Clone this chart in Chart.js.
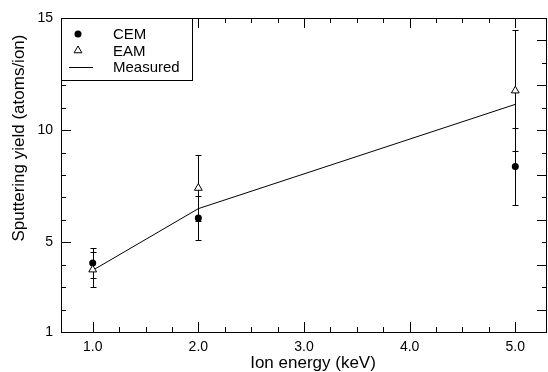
<!DOCTYPE html>
<html>
<head>
<meta charset="utf-8">
<script src="https://cdn.jsdelivr.net/npm/chart.js@4.4.1/dist/chart.umd.min.js"></script>
<style>
  html, body { margin: 0; padding: 0; background: #fff; }
  canvas { display: block; }
</style>
</head>
<body>
<canvas id="chart" width="548" height="372"></canvas>
<script>
const ENERGIES = [1.0, 2.0, 5.0];
const CEM_YIELD = [4.08, 6.08, 8.38];
const CEM_ERR = [0.68, 1.0, 1.7];
const EAM_YIELD = [3.78, 7.42, 11.76];
const EAM_ERR = [0.78, 1.45, 2.7];
const MEASURED = [3.75, 6.5, 11.15];

const X_LABELS = [1, 2, 3, 4, 5];
const Y_LABELS = [1, 5, 10, 15];
const X_TITLE = "Ion energy (keV)";
const Y_TITLE = "Sputtering yield (atoms/ion)";
const LEGEND = ["CEM", "EAM", "Measured"];

const FONT = '"Liberation Sans", Arial, Helvetica, sans-serif';
Chart.defaults.font.family = FONT;
Chart.defaults.color = "#000";

function isNear(v, list) {
  return list.some((t) => Math.abs(v - t) < 1e-6);
}

function toPoints(ys) {
  return ENERGIES.map((e, i) => ({ x: e, y: ys[i] }));
}

// frame plus inward tick marks on all four sides
const frameTicks = {
  id: "frameTicks",
  beforeDatasetsDraw(chart) {
    const { ctx, chartArea: a, scales: { x, y } } = chart;
    ctx.save();
    ctx.strokeStyle = "#000";
    ctx.lineWidth = 1;
    ctx.strokeRect(a.left + 0.5, a.top + 0.5, a.right - a.left - 1, a.bottom - a.top);

    ctx.beginPath();
    x.ticks.forEach((t) => {
      const q = t.value / 0.25;
      if (Math.abs(q - Math.round(q)) > 1e-6) return;
      if (t.value <= x.min || t.value >= x.max) return;
      const px = Math.round(x.getPixelForValue(t.value)) + 0.5;
      const len = isNear(t.value, X_LABELS) ? 10 : 5;
      ctx.moveTo(px, a.bottom); ctx.lineTo(px, a.bottom - len);
      ctx.moveTo(px, a.top); ctx.lineTo(px, a.top + len);
    });
    y.ticks.forEach((t) => {
      if (t.value <= y.min || t.value >= y.max) return;
      const py = Math.round(y.getPixelForValue(t.value)) + 0.5;
      const lenL = isNear(t.value, Y_LABELS) ? 10 : 5;
      const lenR = Math.round(t.value) % 2 === 0 ? 10 : 5;
      ctx.moveTo(a.left, py); ctx.lineTo(a.left + lenL, py);
      ctx.moveTo(a.right, py); ctx.lineTo(a.right - lenR, py);
    });
    ctx.stroke();

    // error bars, under the markers
    [[CEM_YIELD, CEM_ERR], [EAM_YIELD, EAM_ERR]].forEach(([vals, errs]) => {
      ENERGIES.forEach((e, i) => {
        const px = Math.round(x.getPixelForValue(e)) + 0.5;
        const top = Math.round(y.getPixelForValue(vals[i] + errs[i])) + 0.5;
        const bot = Math.round(y.getPixelForValue(vals[i] - errs[i])) + 0.5;
        ctx.beginPath();
        ctx.moveTo(px, top); ctx.lineTo(px, bot);
        ctx.moveTo(px - 3, top); ctx.lineTo(px + 3, top);
        ctx.moveTo(px - 3, bot); ctx.lineTo(px + 3, bot);
        ctx.stroke();
      });
    });
    ctx.restore();
  },
};

// boxed legend in the top-left corner and the two axis titles
const boxLegend = {
  id: "boxLegend",
  afterDraw(chart) {
    const { ctx, chartArea: a } = chart;
    ctx.save();
    const bx = a.left + 0.5, by = a.top + 0.5, bw = 131, bh = 62;
    ctx.fillStyle = "#fff";
    ctx.fillRect(bx, by, bw, bh);
    ctx.strokeStyle = "#000";
    ctx.lineWidth = 1;
    ctx.strokeRect(bx, by, bw, bh);

    const sx = a.left + 17, tx = a.left + 52;
    const rows = [a.top + 16, a.top + 32.5, a.top + 49];

    ctx.fillStyle = "#000";
    ctx.beginPath();
    ctx.arc(sx, rows[0], 3.5, 0, Math.PI * 2);
    ctx.fill();

    ctx.beginPath();
    const r = 4.5;
    ctx.moveTo(sx, rows[1] - r);
    ctx.lineTo(sx + r * 0.866, rows[1] + r / 2);
    ctx.lineTo(sx - r * 0.866, rows[1] + r / 2);
    ctx.closePath();
    ctx.fillStyle = "#fff";
    ctx.fill();
    ctx.stroke();

    ctx.beginPath();
    ctx.moveTo(a.left + 8, Math.round(rows[2]) + 0.5);
    ctx.lineTo(a.left + 32, Math.round(rows[2]) + 0.5);
    ctx.stroke();

    ctx.fillStyle = "#000";
    ctx.font = `15px ${FONT}`;
    ctx.textAlign = "left";
    ctx.textBaseline = "middle";
    LEGEND.forEach((label, i) => ctx.fillText(label, tx, rows[i] + 1));

    ctx.font = `17px ${FONT}`;
    ctx.textAlign = "center";
    ctx.fillText(X_TITLE, (a.left + a.right) / 2 + 9, a.bottom + 31);

    ctx.translate(19, a.top + 120);
    ctx.rotate(-Math.PI / 2);
    ctx.fillText(Y_TITLE, 0, 0);
    ctx.restore();
  },
};

new Chart(document.getElementById("chart"), {
  type: "scatter",
  data: {
    datasets: [
      {
        label: "Measured",
        type: "line",
        data: toPoints(MEASURED),
        borderColor: "#000",
        borderWidth: 1,
        pointRadius: 0,
        fill: false,
        tension: 0,
        order: 3,
      },
      {
        label: "CEM",
        data: toPoints(CEM_YIELD),
        pointStyle: "circle",
        pointRadius: 3.5,
        backgroundColor: "#000",
        borderColor: "#000",
        borderWidth: 0,
        order: 2,
      },
      {
        label: "EAM",
        data: toPoints(EAM_YIELD),
        pointStyle: "triangle",
        pointRadius: 4.5,
        backgroundColor: "#fff",
        borderColor: "#000",
        borderWidth: 1,
        order: 1,
      },
    ],
  },
  options: {
    responsive: false,
    animation: false,
    layout: { autoPadding: false, padding: { top: 18, right: 1, left: 0, bottom: 0 } },
    plugins: {
      legend: { display: false },
      tooltip: { enabled: false },
    },
    scales: {
      x: {
        type: "linear",
        min: 0.7,
        max: 5.3,
        // tick marks drawn by the plugin; tickLength only spaces the labels
        grid: { display: false, drawTicks: true, tickLength: 7 },
        border: { display: false },
        afterFit(scale) { scale.height = 40; },
        ticks: {
          stepSize: 0.25,
          autoSkip: false,
          maxRotation: 0,
          padding: 0,
          font: { size: 14 },
          callback: (v) => (isNear(v, X_LABELS) ? Number(v).toFixed(1) : ""),
        },
      },
      y: {
        type: "linear",
        min: 1,
        max: 15,
        grid: { display: false, drawTicks: false },
        border: { display: false },
        afterFit(scale) { scale.width = 61; },
        ticks: {
          stepSize: 1,
          autoSkip: false,
          padding: 8,
          font: { size: 14 },
          callback: (v) => (isNear(v, Y_LABELS) ? String(v) : ""),
        },
      },
    },
  },
  plugins: [frameTicks, boxLegend],
});
</script>
</body>
</html>
